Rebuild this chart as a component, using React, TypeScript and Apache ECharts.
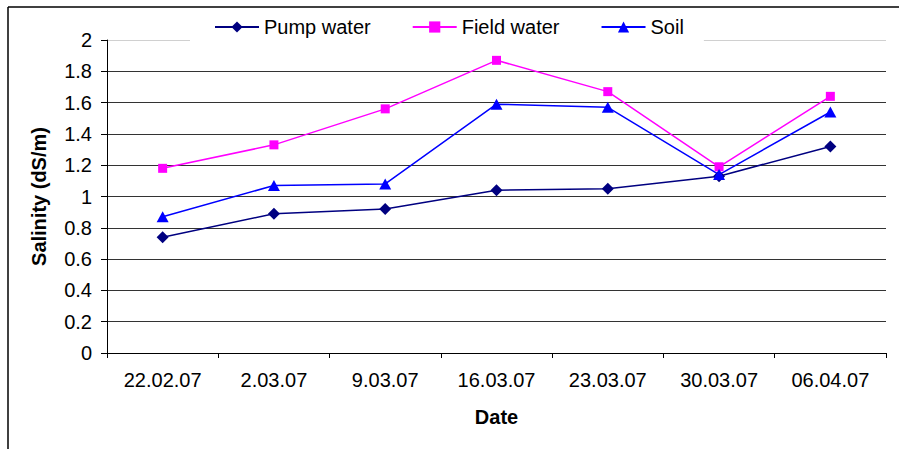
import React, { useEffect, useRef } from "react";
import * as echarts from "echarts";

// Sampling dates (x axis categories)
const dates = ["22.02.07", "2.03.07", "9.03.07", "16.03.07", "23.03.07", "30.03.07", "06.04.07"];

// Salinity readings in dS/m
const pumpWater = [0.74, 0.89, 0.92, 1.04, 1.05, 1.13, 1.32];
const fieldWater = [1.18, 1.33, 1.56, 1.87, 1.67, 1.19, 1.64];
const soil = [0.87, 1.07, 1.08, 1.59, 1.57, 1.14, 1.54];

const FONT = "'Liberation Sans', Arial, sans-serif";

// Grid line colours from 0 to 2; the topmost one is drawn pale
const gridColors = ["#333", "#333", "#333", "#333", "#333", "#333", "#333", "#333", "#333", "#333", "#d0d0d0"];

export default function App() {
  const ref = useRef<HTMLDivElement>(null);

  useEffect(() => {
    if (!ref.current) return;
    const chart = echarts.init(ref.current, null, { renderer: "svg" });
    const line = (name: string, data: number[], color: string, symbol: string, size: number | number[]) => ({
      name,
      type: "line",
      data,
      symbol,
      symbolSize: size,
      showAllSymbol: true,
      lineStyle: { color, width: 1.5 },
      itemStyle: { color },
      emphasis: { disabled: true },
    });
    chart.setOption({
      animation: false,
      backgroundColor: "#fff",
      textStyle: { fontFamily: FONT, color: "#000" },
      graphic: [
        { type: "line", shape: { x1: 8, y1: 7, x2: 899, y2: 7 }, style: { stroke: "#000", lineWidth: 1.5 } },
        { type: "line", shape: { x1: 8, y1: 7, x2: 8, y2: 449 }, style: { stroke: "#000", lineWidth: 1.5 } },
      ],
      legend: {
        left: 190,
        top: 12,
        padding: [5, 20, 6, 24],
        backgroundColor: "#fff",
        itemGap: 41,
        itemWidth: 44,
        itemHeight: 14,
        textStyle: { fontFamily: FONT, fontSize: 20, color: "#000" },
        data: ["Pump water", "Field water", "Soil"],
      },
      grid: { left: 107, right: 13, top: 40, bottom: 96, containLabel: false },
      xAxis: {
        type: "category",
        data: dates,
        boundaryGap: true,
        name: "Date",
        nameLocation: "middle",
        nameGap: 54,
        nameTextStyle: { fontFamily: FONT, fontSize: 20, fontWeight: "bold", color: "#000" },
        axisLine: { lineStyle: { color: "#000", width: 1 } },
        axisTick: { show: true, length: 5, alignWithLabel: false, lineStyle: { color: "#000" } },
        axisLabel: { fontFamily: FONT, fontSize: 20, color: "#000", margin: 17 },
        splitLine: { show: false },
      },
      yAxis: {
        type: "value",
        min: 0,
        max: 2,
        interval: 0.2,
        name: "Salinity (dS/m)",
        nameLocation: "middle",
        nameGap: 58,
        nameRotate: 90,
        nameTextStyle: { fontFamily: FONT, fontSize: 20, fontWeight: "bold", color: "#000" },
        axisLine: { show: true, lineStyle: { color: "#000", width: 1 } },
        axisTick: { show: true, length: 6, lineStyle: { color: "#000" } },
        axisLabel: { fontFamily: FONT, fontSize: 20, color: "#000", margin: 15 },
        splitLine: { show: true, lineStyle: { color: gridColors, width: 1 } },
      },
      series: [
        line("Pump water", pumpWater, "#000080", "diamond", [12, 12]),
        line("Field water", fieldWater, "#ff00ff", "rect", 9),
        line("Soil", soil, "#0000ff", "triangle", [12, 11]),
      ],
    });
    return () => chart.dispose();
  }, []);

  return (
    <div
      ref={ref}
      style={{ position: "fixed", left: 0, top: 0, width: 899, height: 449, background: "#fff" }}
    />
  );
}
